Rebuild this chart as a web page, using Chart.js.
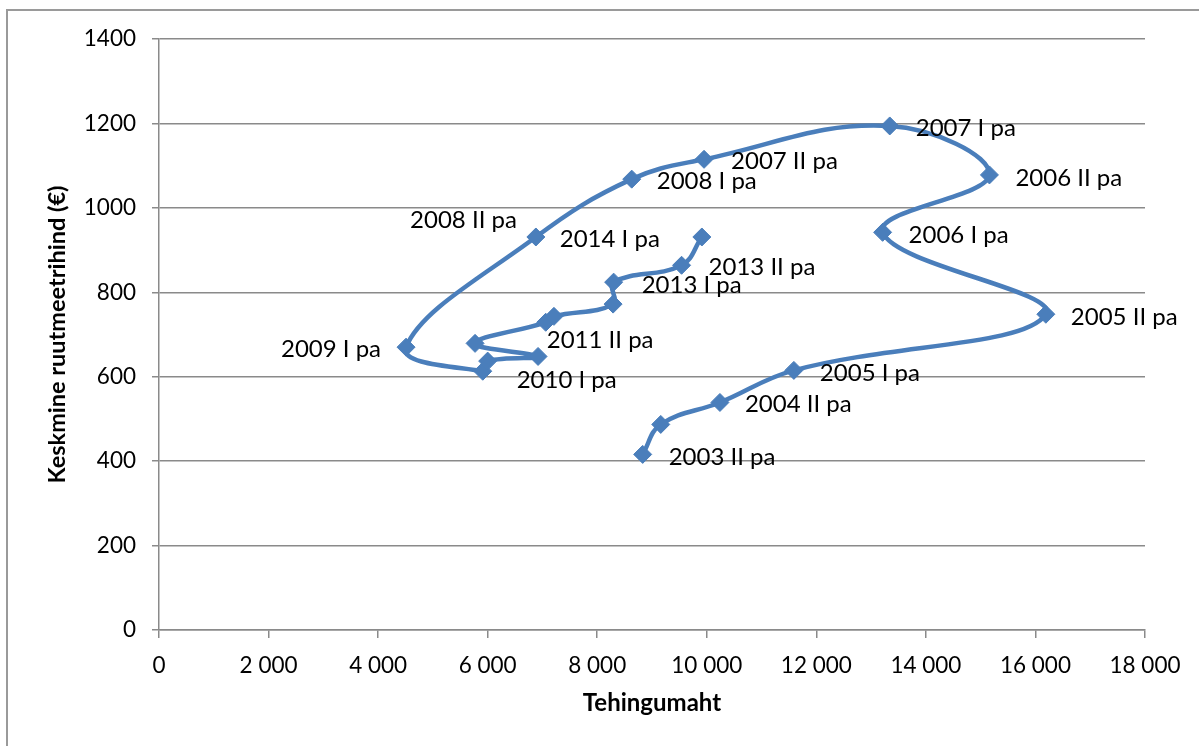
<!DOCTYPE html>
<html>
<head>
<meta charset="utf-8">
<script src="https://cdn.jsdelivr.net/npm/chart.js@4"></script>
<style>
  html, body { margin: 0; padding: 0; background: #fff; }
  #wrap { width: 1199px; height: 746px; position: relative; }
</style>
</head>
<body>
<div id="wrap"><canvas id="c" width="1199" height="746"></canvas></div>
<script>
// Half-year periods, in time order
const periods = [
  '2003 II pa', '2004 I pa', '2004 II pa', '2005 I pa', '2005 II pa',
  '2006 I pa', '2006 II pa', '2007 I pa', '2007 II pa', '2008 I pa',
  '2008 II pa', '2009 I pa', '2009 II pa', '2010 I pa', '2010 II pa',
  '2011 I pa', '2011 II pa', '2012 I pa', '2012 II pa', '2013 I pa',
  '2013 II pa', '2014 I pa'
];
// Transaction volume (Tehingumaht)
const volume = [
  8830, 9160, 10240, 11590, 16190,
  13210, 15160, 13340, 9950, 8630,
  6880, 4510, 5910, 6000, 6920,
  5770, 7060, 7210, 8290, 8300,
  9540, 9910
];
// Average price per square metre (€)
const pricePerM2 = [
  416, 487, 539, 615, 748,
  942, 1078, 1194, 1115, 1068,
  931, 670, 613, 637, 648,
  679, 729, 743, 772, 824,
  864, 931
];
const xTicks = [0, 2000, 4000, 6000, 8000, 10000, 12000, 14000, 16000, 18000];
const yTicks = [0, 200, 400, 600, 800, 1000, 1200, 1400];

// Where each shown period label sits relative to its marker
const labelPlacement = [
  { i: 0, dx: 26, dy: 3, align: 'left' },
  { i: 2, dx: 25, dy: 2, align: 'left' },
  { i: 3, dx: 26, dy: 3, align: 'left' },
  { i: 4, dx: 25, dy: 3, align: 'left' },
  { i: 5, dx: 26, dy: 3, align: 'left' },
  { i: 6, dx: 26, dy: 3, align: 'left' },
  { i: 7, dx: 26, dy: 2, align: 'left' },
  { i: 8, dx: 27, dy: 2, align: 'left' },
  { i: 9, dx: 25, dy: 2, align: 'left' },
  { i: 10, dx: -19, dy: -17, align: 'right' },
  { i: 11, dx: -25, dy: 2, align: 'right' },
  { i: 13, dx: 29, dy: 19, align: 'left' },
  { i: 16, dx: 1, dy: 18, align: 'left' },
  { i: 19, dx: 28, dy: 3, align: 'left' },
  { i: 20, dx: 27, dy: 2, align: 'left' },
  { i: 21, dx: -42, dy: 2, align: 'right' }
];

const FONT = 'Lato, "Open Sans", sans-serif';
const GRID = '#8a8a8a';
const BLUE = '#4a7ebb';

const fmtThousands = v => String(v).replace(/\B(?=(\d{3})+(?!\d))/g, ' ');

// Outer frame of the chart object
const framePlugin = {
  id: 'frame',
  beforeDraw(chart) {
    const ctx = chart.ctx;
    ctx.save();
    ctx.fillStyle = '#fff';
    ctx.fillRect(0, 0, chart.width, chart.height);
    ctx.strokeStyle = '#9a9a9a';
    ctx.lineWidth = 2;
    ctx.strokeRect(7, 10, chart.width + 20, chart.height + 20);
    ctx.restore();
  }
};

// Period labels next to the markers
const periodLabelPlugin = {
  id: 'periodLabels',
  afterDatasetsDraw(chart) {
    const ctx = chart.ctx;
    const pts = chart.getDatasetMeta(0).data;
    ctx.save();
    ctx.font = '24px ' + FONT;
    ctx.fillStyle = '#000';
    ctx.textBaseline = 'middle';
    labelPlacement.forEach(p => {
      const pt = pts[p.i];
      ctx.textAlign = p.align;
      ctx.fillText(periods[p.i], pt.x + p.dx, pt.y + p.dy);
    });
    ctx.restore();
  }
};

new Chart(document.getElementById('c'), {
  type: 'scatter',
  data: {
    datasets: [{
      label: 'Keskmine ruutmeetrihind',
      data: volume.map((v, k) => ({ x: v, y: pricePerM2[k] })),
      showLine: true,
      tension: 0.4,
      borderColor: BLUE,
      borderWidth: 4.5,
      backgroundColor: BLUE,
      pointStyle: 'rectRot',
      pointRadius: 9,
      pointHoverRadius: 9,
      pointBorderWidth: 1,
      pointBorderColor: BLUE,
      pointBackgroundColor: BLUE
    }]
  },
  options: {
    responsive: false,
    animation: false,
    events: [],
    layout: { padding: { top: 39, right: 54, left: 0, bottom: 0 } },
    plugins: {
      legend: { display: false },
      tooltip: { enabled: false }
    },
    scales: {
      x: {
        type: 'linear',
        min: 0,
        max: 18000,
        afterBuildTicks(scale) { scale.ticks = xTicks.map(v => ({ value: v })); },
        afterFit(scale) { scale.height = 116; },
        grid: { drawOnChartArea: false, drawTicks: true, tickLength: 8, color: GRID, lineWidth: 1.5 },
        border: { display: true, color: GRID, width: 1.5 },
        ticks: {
          color: '#000',
          padding: 14,
          maxRotation: 0,
          font: { family: FONT, size: 22.5 },
          callback: v => fmtThousands(v)
        },
        title: {
          display: true,
          text: 'Tehingumaht',
          color: '#000',
          font: { family: FONT, size: 24, weight: 'bold' },
          padding: { top: 0, bottom: 28 }
        }
      },
      y: {
        type: 'linear',
        min: 0,
        max: 1400,
        afterBuildTicks(scale) { scale.ticks = yTicks.map(v => ({ value: v })); },
        afterFit(scale) { scale.width = 159; },
        grid: { drawTicks: true, tickLength: 7, color: GRID, lineWidth: 1.5 },
        border: { display: true, color: GRID, width: 1.5 },
        ticks: {
          color: '#000',
          padding: 16,
          font: { family: FONT, size: 22.5 },
          callback: v => String(v)
        },
        title: {
          display: true,
          text: 'Keskmine ruutmeetrihind (€)',
          color: '#000',
          font: { family: FONT, size: 23.5, weight: 'bold' },
          padding: { top: 43, bottom: 0 }
        }
      }
    }
  },
  plugins: [framePlugin, periodLabelPlugin]
});
</script>
</body>
</html>
